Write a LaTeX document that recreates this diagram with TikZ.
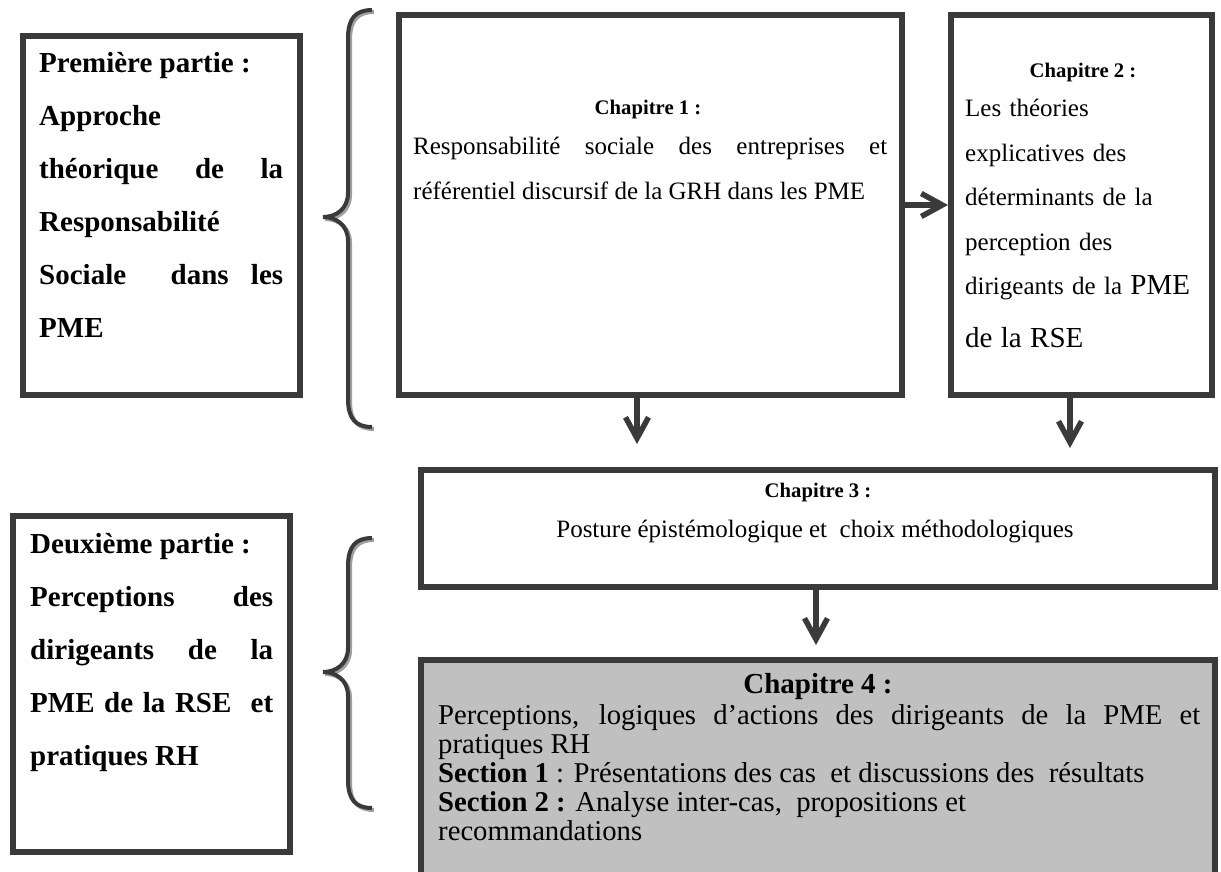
\documentclass[tikz,border=0pt]{standalone}
\usepackage{fontspec}
\setmainfont{Liberation Serif}
\usetikzlibrary{arrows.meta}
\definecolor{ink}{HTML}{3A3A3A}
\definecolor{shade}{HTML}{A0A0A0}
\definecolor{chapfill}{HTML}{C0C0C0}
\tikzset{boxframe/.style={draw=ink,line width=6pt,rectangle,inner sep=0pt},
  arr/.style={draw=ink,line width=5.5pt,-{Straight Barb[length=21pt,width=23pt]}},
  parttext/.style={inner sep=0pt,anchor=base west,text width=#1,align=justify,font=\fontsize{29}{53}\selectfont\bfseries},
  bodytext/.style={inner sep=0pt,anchor=base west,text width=#1,font=\fontsize{25}{45}\selectfont},
  chaptitle/.style={inner sep=0pt,anchor=base,font=\fontsize{#1}{#1}\selectfont\bfseries}}
\newcommand{\chapbox}[6][]{\node[boxframe,#1,minimum width=#5pt,minimum height=#6pt] (#2) at (#3,#4) {};}
\newcommand{\arrowdown}[2]{\draw[arr] (#1.south -| #2) -- (#2);}
\newcommand{\partbrace}[3]{\foreach \dx/\col in {2/shade,0/ink}
  \draw[line width=4pt,color=\col,xshift=\dx,yshift=-\dx] (372,#1) .. controls (356,#1) and (348,#1+8) .. (348,#1+28)
    -- (348,#2-24) .. controls (348,#2-8) and (336,#2) .. (323,#2) .. controls (336,#2) and (348,#2+8) .. (348,#2+24)
    -- (348,#3-28) .. controls (348,#3-8) and (356,#3) .. (372,#3);}

\begin{document}
\begin{tikzpicture}[x=1pt,y=-1pt]
    \useasboundingbox (0,0) rectangle (1221,872); \clip (0,0) rectangle (1221,872);
    \chapbox{part1}{161.5}{215.5}{277}{359}    \chapbox{part2}{151.5}{684}{277}{336}
    \chapbox{ch1}{650.5}{205}{503}{380}    \chapbox{ch2}{1081.5}{205}{261}{380}
    \chapbox{ch3}{818}{528.5}{794}{117}    \chapbox[fill=chapfill]{ch4}{818}{780}{794}{240}
    \partbrace{10}{217}{427}    \partbrace{538}{672}{808}
    \node[parttext=244pt] (part1txt) at (39,73) {Première partie :\newline Approche\newline théorique de la\linebreak Responsabilité\newline Sociale\ \ dans les\linebreak PME};
    \node[parttext=243pt] (part2txt) at (30,553) {Deuxième partie :\newline Perceptions des\linebreak dirigeants de la\linebreak PME de la RSE\ \ et\linebreak pratiques RH};
    \node[chaptitle=20.7] (ch1lbl) at (648,115) {Chapitre 1 :};
    \node[bodytext=474pt,align=justify] (ch1txt) at (413,154) {Responsabilité sociale des entreprises et\linebreak référentiel discursif de la GRH dans les PME};
    \node[chaptitle=20.7] (ch2lbl) at (1083,78) {Chapitre 2 :};
    \node[bodytext=235pt,align=left,font=\fontsize{25}{44.5}\selectfont] (ch2txt) at (965,117) {Les théories\\ explicatives des\\ déterminants de la\\ perception des\\ dirigeants de la {\fontsize{29}{29}\selectfont PME}\\[8pt] {\fontsize{29}{29}\selectfont de la RSE}};
    \node[chaptitle=20.7] (ch3lbl) at (818,497) {Chapitre 3 :};
    \node[inner sep=0pt,anchor=base,font=\fontsize{25}{30}\selectfont] (ch3txt) at (815,537) {Posture épistémologique et\ \ choix méthodologiques};
    \node[chaptitle=29] (ch4lbl) at (818,693) {Chapitre 4 :};
    \node[bodytext=762pt,align=justify,font=\fontsize{28.7}{29}\selectfont] (ch4txt) at (438,724) {Perceptions, logiques d’actions des dirigeants de la PME et\linebreak pratiques RH\par \textbf{Section 1} : Présentations des cas\ \ et discussions des\ \ résultats\par \textbf{Section 2 :} Analyse inter-cas,\ \ propositions et\newline recommandations};
    \coordinate (tip1) at (637,444); \coordinate (tip2) at (1070,448); \coordinate (tip3) at (816,645);
    \draw[arr] (ch1) -- (ch2);
    \arrowdown{ch1}{tip1}\arrowdown{ch2}{tip2}\arrowdown{ch3}{tip3}
\end{tikzpicture}
\end{document}
